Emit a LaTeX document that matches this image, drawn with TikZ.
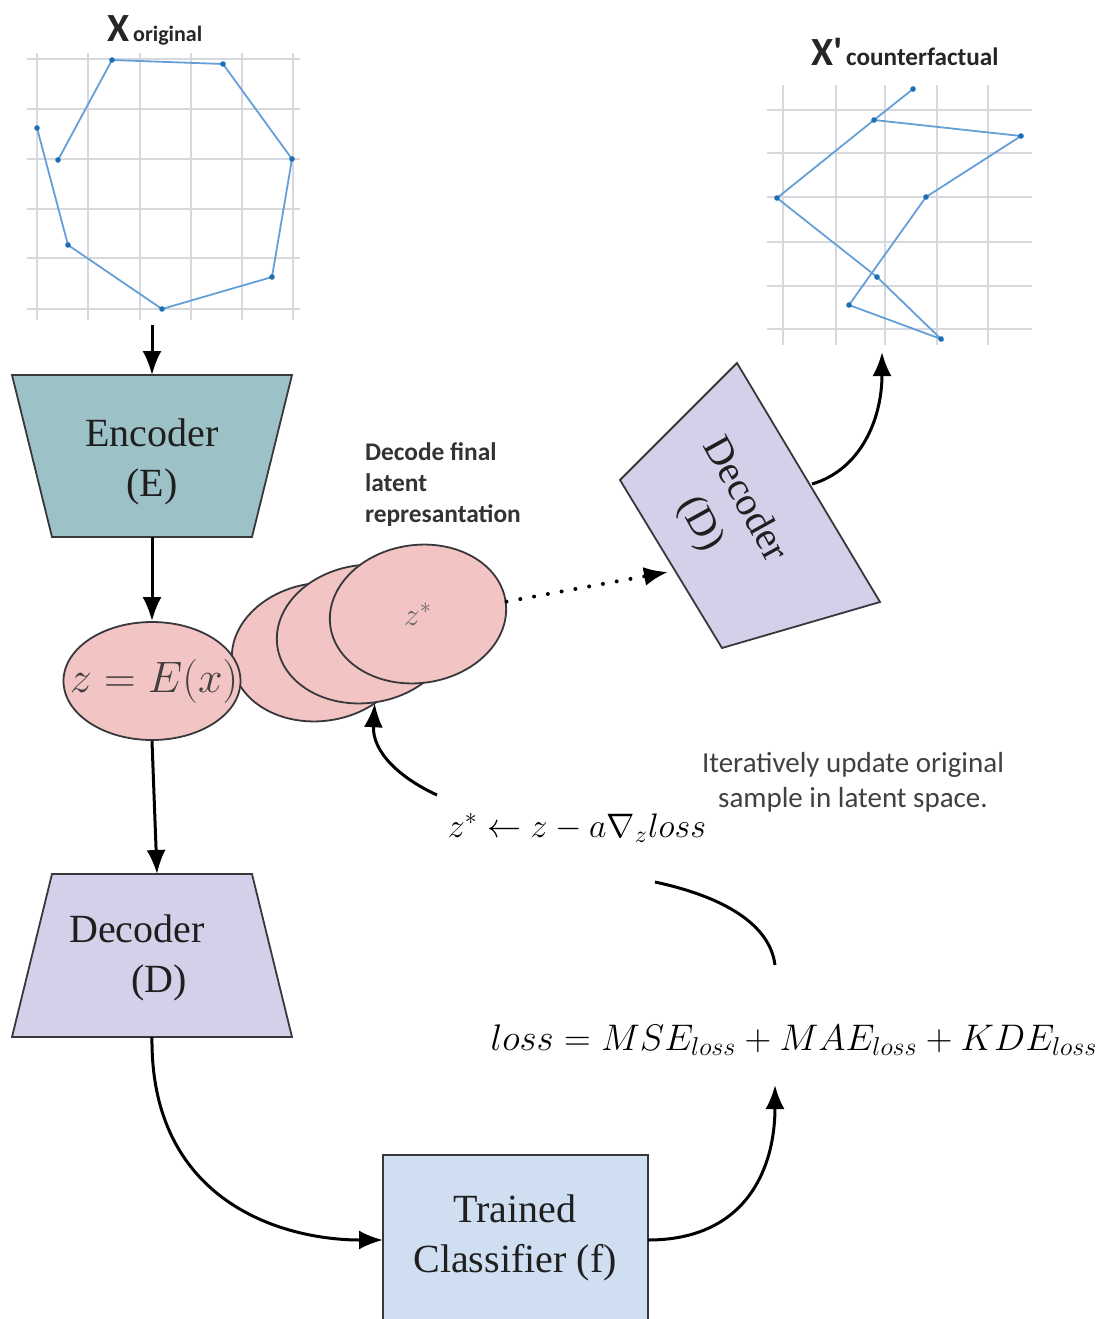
\RequirePackage{fix-cm}
\documentclass[tikz,border=0pt]{standalone}
\usepackage{fontspec}
\setmainfont{Liberation Serif}
\newfontfamily\calfont{Carlito}
\usetikzlibrary{arrows.meta,shapes.geometric}
\definecolor{enccol}{RGB}{156,194,200}
\definecolor{deccol}{RGB}{214,207,234}
\definecolor{zcol}{RGB}{242,196,196}
\definecolor{clfcol}{RGB}{207,223,241}
\definecolor{edgecol}{RGB}{55,55,60}
\definecolor{curvecol}{RGB}{100,160,215}
\definecolor{dotcol}{RGB}{30,110,180}
\definecolor{gridcol}{RGB}{215,215,222}

\begin{document}
\begin{tikzpicture}[x=0.5pt,y=-0.5pt,
    >={Latex[length=12pt,width=9.5pt]},
    conn/.style={->,line width=1.5pt},
    gridline/.style={gridcol,line width=0.7pt},
    series/.style={curvecol,line width=0.9pt},
    blockedge/.style={draw=edgecol,line width=0.9pt},
    blocktext/.style={align=center,font=\fontsize{20}{25}\selectfont,text=black!88},
    zshape/.style={ellipse,draw=edgecol,line width=0.9pt,fill=zcol,inner sep=0pt},
    latent/.style={zshape,minimum width=88.5pt,minimum height=69pt,rotate=8},
    note/.style={font=\calfont\fontsize{14.5}{17.5}\selectfont,text=black!75,align=center}]

  \useasboundingbox (0,0) rectangle (1102,1319);

  % 原始样本 X
  \node[font=\calfont\bfseries,text=black!85] (xorig) at (155,30)
    {{\fontsize{20}{24}\selectfont X}\,{\fontsize{11}{13}\selectfont original}};
  \foreach \gx in {37,88,140,191,242,293}
    \draw[gridline] (\gx,53) -- (\gx,320);
  \foreach \gy in {59,109,159,209,258,309}
    \draw[gridline] (27,\gy) -- (300,\gy);
  \draw[series] (58,160) -- (112,60) -- (223,64) -- (292,159) -- (272,277)
    -- (162,309) -- (68,245) -- (37,128);
  \foreach \px/\py in {58/160,112/60,223/64,292/159,272/277,162/309,68/245,37/128}
    \fill[dotcol] (\px,\py) circle (2.8);
  \coordinate (xg-s) at (152,325);

  % 编码器 E
  \draw[blockedge,fill=enccol] (12,375) -- (292,375) -- (252,537) -- (52,537) -- cycle;
  \node[blocktext] (enc) at (152,462) {Encoder\\(E)};
  \coordinate (enc-n) at (152,375);
  \coordinate (enc-s) at (152,537);
  \draw[conn] (xg-s) -- (enc-n);

  % 潜在表示（迭代）
  \node[latent] (zA) at (320,652) {};
  \node[latent] (zB) at (365,634) {};
  \node[latent] (zstar) at (418,614) {};
  \node[font=\fontsize{16}{18}\selectfont,text=black!60] (zstar-t) at (zstar) {$z^{*}$};
  \node[zshape,minimum width=88.5pt,minimum height=59pt] (zenc) at (152,681) {};
  \node[font=\fontsize{22}{26}\selectfont,text=black!75] (zenc-t) at (154,681) {$z=E(x)$};
  \draw[conn] (enc-s) -- (zenc.north);

  % 解码器 D
  \draw[blockedge,fill=deccol] (52,874) -- (252,874) -- (292,1037) -- (12,1037) -- cycle;
  \node[blocktext,align=left] (dec) at (137,958) {Decoder\\\hspace{31pt}(D)};
  \coordinate (dec-n) at (157,874);
  \coordinate (dec-s) at (152,1037);
  \draw[conn] (zenc.south) -- (dec-n);

  % 分类器 f
  \draw[blockedge,fill=clfcol] (383,1155) rectangle (648,1340);
  \node[blocktext] (clf) at (515,1238) {Trained\\Classifier (f)};
  \coordinate (clf-w) at (383,1240);
  \coordinate (clf-e) at (648,1240);
  \draw[conn] (dec-s) .. controls (150,1200) and (280,1240) .. (clf-w);

  % 损失函数
  \node[font=\fontsize{18.5}{22}\selectfont] (loss) at (794,1040)
    {$loss = MSE_{loss} + MAE_{loss} + KDE_{loss}$};
  \coordinate (loss-s) at (775,1085);
  \coordinate (loss-n) at (775,965);
  \draw[conn] (clf-e) .. controls (745,1240) and (775,1170) .. (loss-s);

  % 潜在空间中更新
  \node[font=\fontsize{17}{20}\selectfont] (upd) at (577,828) {$z^{*} \leftarrow z - a\nabla_{z} loss$};
  \node[note] (iter) at (853,782) {Iteratively update original\\sample in latent space.};
  \coordinate (upd-a) at (655,882);
  \coordinate (upd-b) at (437,795);
  \draw[line width=1.5pt] (loss-n) .. controls (770,925) and (725,897) .. (upd-a);
  \draw[conn] (upd-b) .. controls (400,778) and (372,752) .. (zB.south);

  % 解码最终表示
  \node[font=\calfont\bfseries\fontsize{12.7}{15.5}\selectfont,align=left,anchor=north west,text=black!80]
    (fin) at (358,436) {Decode final\\latent\\represantation};

  % 旋转的解码器
  \draw[blockedge,fill=deccol] (737,363) -- (880,602) -- (722,648) -- (620,480) -- cycle;
  \node[blocktext,rotate=-61] (rdec) at (722,512) {Decoder\\(D)};
  \coordinate (rdec-w) at (668,572);
  \coordinate (rdec-e) at (812,484);
  \draw[conn,line width=2pt,dash pattern=on 0pt off 7pt,line cap=round] (zstar.east) -- (rdec-w);

  % 反事实样本 X'
  \node[font=\calfont\bfseries,text=black!85] (xcf) at (905,52)
    {{\fontsize{20}{24}\selectfont X\textquotesingle}\,{\fontsize{12.6}{14}\selectfont counterfactual}};
  \foreach \gx in {783,836,885,937,988}
    \draw[gridline] (\gx,85) -- (\gx,345);
  \foreach \gy in {110,153,197,242,286,329}
    \draw[gridline] (767,\gy) -- (1032,\gy);
  \draw[series] (913,89) -- (874,120) -- (777,198) -- (877,277) -- (941,339)
    -- (849,305) -- (926,197) -- (1021,136) -- (874,120);
  \foreach \px/\py in {913/89,874/120,1021/136,926/197,877/277,849/305,941/339,777/198}
    \fill[dotcol] (\px,\py) circle (2.8);
  \coordinate (xc-s) at (882,352);
  \draw[conn] (rdec-e) .. controls (860,470) and (882,420) .. (xc-s);
\end{tikzpicture}
\end{document}
